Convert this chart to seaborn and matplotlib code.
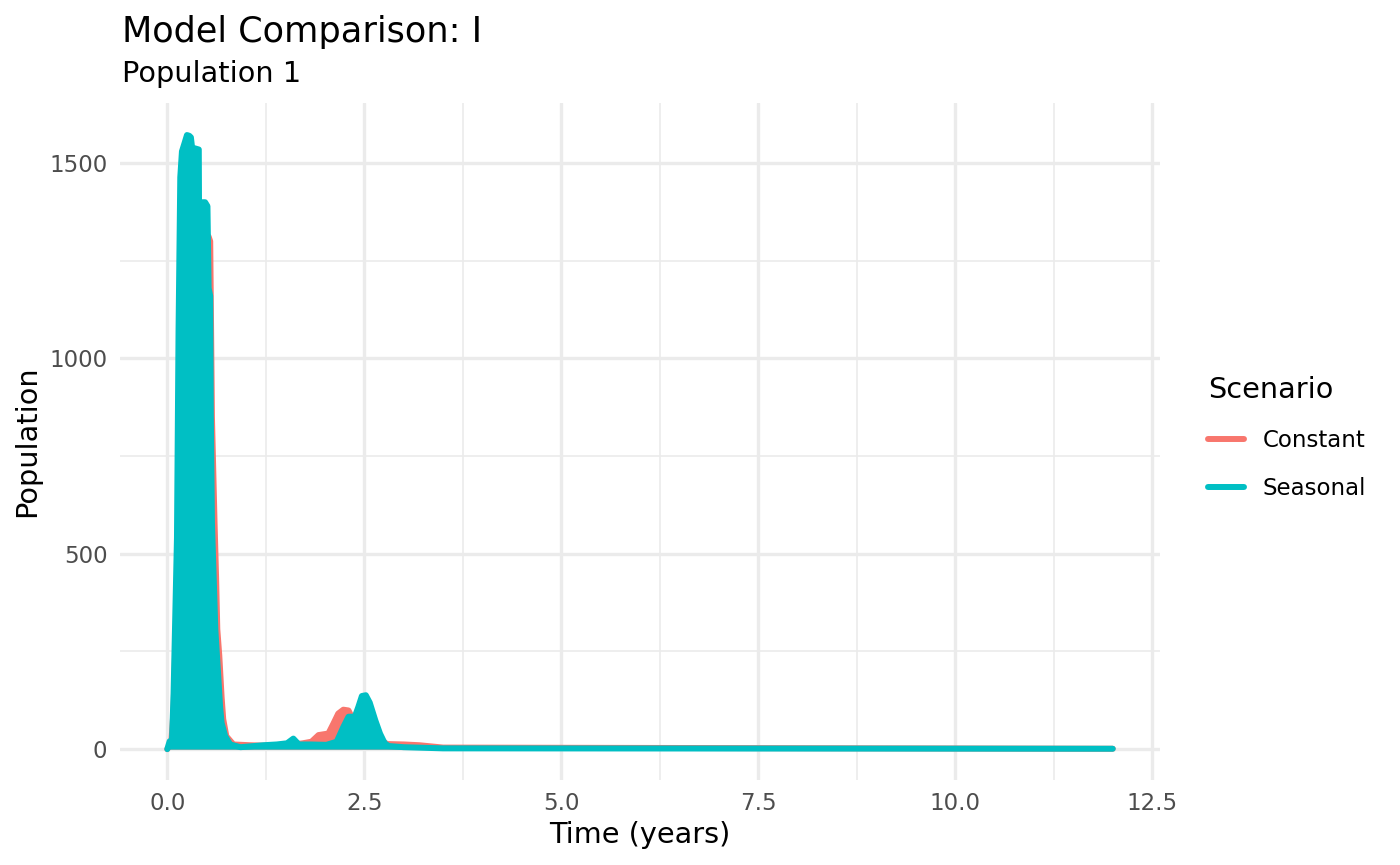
import pandas as pd
import matplotlib
matplotlib.use("Agg")
import matplotlib.pyplot as plt
import seaborn as sns

# envelope of the daily series (peak values)
const_time = [0.0, 0.05, 0.08, 0.10, 0.13, 0.16, 0.20, 0.25, 0.30, 0.35, 0.40, 0.43, 0.48, 0.525,
              0.545, 0.555, 0.567, 0.60, 0.62, 0.635, 0.66, 0.69, 0.71, 0.75, 0.84, 1.05, 1.4, 1.6,
              1.72, 1.83, 1.92, 2.045, 2.11, 2.17, 2.235, 2.30, 2.34, 2.40, 2.50, 2.60, 2.70, 2.79,
              3.0, 3.2, 3.5, 12.0]
const_pop = [0, 15, 100, 250, 450, 800, 1100, 1250, 1300, 1320, 1330, 1330, 1320, 1312,
             1300, 1100, 850, 580, 437, 307, 240, 132, 77, 33, 12, 10, 8, 12,
             15, 19, 36, 40, 66, 91, 101, 99, 83, 70, 60, 45, 25, 13,
             12, 10, 4, 1]

seas_time = [0.0, 0.03, 0.06, 0.08, 0.10, 0.123, 0.143, 0.165, 0.186, 0.22, 0.25, 0.28, 0.30,
             0.315, 0.40, 0.405, 0.415, 0.44, 0.447, 0.48, 0.51, 0.525, 0.545, 0.553, 0.567, 0.61,
             0.65, 0.67, 0.69, 0.735, 0.80, 0.93, 1.22, 1.39, 1.52, 1.60, 1.67, 1.81, 2.02, 2.15,
             2.235, 2.30, 2.38, 2.425, 2.47, 2.52, 2.57, 2.64, 2.70, 2.76, 2.81, 3.0, 3.5, 12.0]
seas_pop = [0, 20, 23, 143, 328, 541, 1071, 1464, 1530, 1552, 1572, 1570, 1566,
            1540, 1535, 1300, 1180, 1180, 1400, 1400, 1390, 1180, 1160, 853, 580, 307,
            177, 110, 67, 33, 12, 5, 10, 12, 15, 27, 12, 12, 11, 19,
            57, 83, 83, 108, 136, 138, 119, 74, 40, 15, 8, 5, 2, 1]

scenarios = ["Constant", "Seasonal"]
colors = {"Constant": "#F8766D", "Seasonal": "#00BFC4"}

df = pd.concat([
    pd.DataFrame({"time": const_time, "pop": const_pop, "Scenario": "Constant"}),
    pd.DataFrame({"time": seas_time, "pop": seas_pop, "Scenario": "Seasonal"}),
])

sns.set_theme(style="white")
plt.rcParams["font.family"] = ["DejaVu Sans"]
plt.rcParams["text.color"] = "black"
plt.rcParams["axes.labelcolor"] = "black"

fig = plt.figure(figsize=(14, 8.65), dpi=100)
ax = fig.add_axes([120/1400, 1-780/865, 1040/1400, 677/865])

sns.lineplot(data=df, x="time", y="pop", hue="Scenario", palette=colors,
             estimator=None, sort=False, linewidth=4.3, ax=ax)

# the daily values swing between ~0 and the envelope, so the band looks filled;
# Seasonal is drawn over Constant
for i, s in enumerate(scenarios):
    d = df[df["Scenario"] == s]
    ax.fill_between(d["time"], 0, d["pop"], color=colors[s], lw=0, zorder=2 + 2 * i)
    ax.lines[i].set_zorder(3 + 2 * i)

ax.set_xlim(-0.6, 12.6)
ax.set_ylim(-79, 1654)
ax.set_xticks([0, 2.5, 5, 7.5, 10, 12.5])
ax.set_xticklabels(["0.0", "2.5", "5.0", "7.5", "10.0", "12.5"])
ax.set_yticks([0, 500, 1000, 1500])
ax.set_xticks([1.25, 3.75, 6.25, 8.75, 11.25], minor=True)
ax.set_yticks([250, 750, 1250], minor=True)
ax.grid(which="major", color="#EBEBEB", lw=2.4, zorder=0)
ax.grid(which="minor", color="#EBEBEB", lw=1.2, zorder=0)
ax.set_axisbelow(True)
for sp in ax.spines.values():
    sp.set_visible(False)
ax.tick_params(which="both", length=0, labelsize=16.5, labelcolor="#4D4D4D", pad=9)

ax.set_xlabel("Time (years)", fontsize=20.7, labelpad=4)
ax.set_ylabel("Population", fontsize=20.7, labelpad=6)

fig.text(122/1400, 1-42/865, "Model Comparison: I", fontsize=25.3, va="baseline")
fig.text(122/1400, 1-82/865, "Population 1", fontsize=20.7, va="baseline")

sns.move_legend(ax, "upper left", bbox_to_anchor=(1208/1400, 1-376/865),
                bbox_transform=fig.transFigure, frameon=False, title="Scenario",
                fontsize=16.5, title_fontsize=20.7, handlelength=1.55,
                handletextpad=0.85, labelspacing=1.1, borderaxespad=0, borderpad=0,
                alignment="left")
for h in ax.get_legend().get_lines():
    h.set_linewidth(4.3)

fig.savefig("out.png", dpi=100)
